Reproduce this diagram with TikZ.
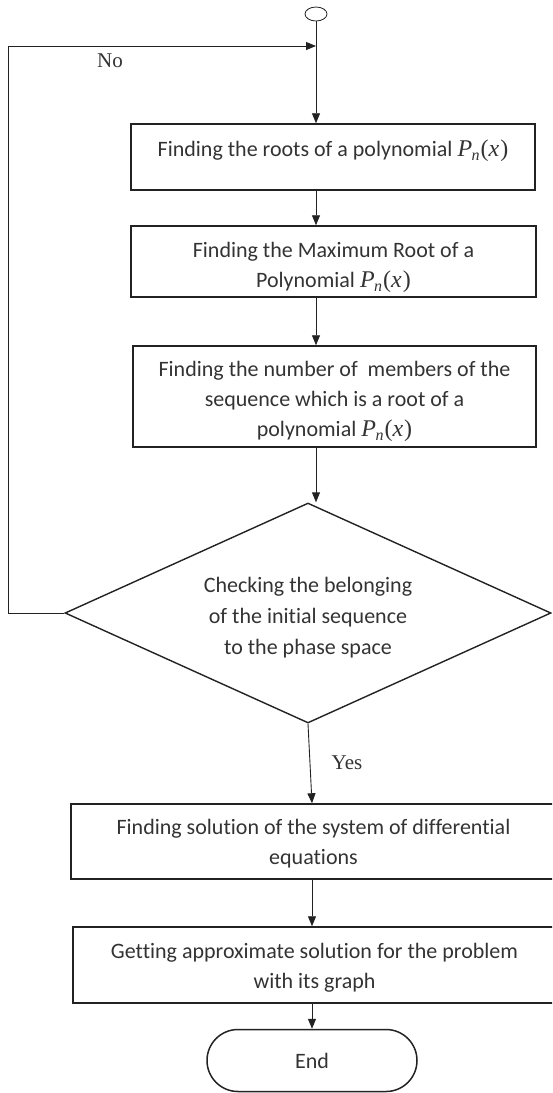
\documentclass[tikz,border=0pt]{standalone}
\usepackage{fontspec}
\setmainfont{Carlito}[Ligatures=NoCommon]
\newfontfamily\timesfont{Liberation Serif}
\usetikzlibrary{shapes.geometric,arrows.meta}
\definecolor{ink}{HTML}{222222}
\definecolor{txt}{HTML}{333333}
\newcommand{\polyP}{{\timesfont\fontsize{24}{30}\selectfont\itshape P\kern-0.5pt\raisebox{-4pt}{\fontsize{16}{16}\selectfont n}\kern1pt\upshape(\itshape x\kern1pt\upshape)}}
\begin{document}
\begin{tikzpicture}[x=1pt,y=-1pt,
  procbox/.style={draw=ink, line width=1.5pt, inner sep=0pt, align=center,
    text=txt, font=\fontsize{22}{30}\selectfont},
  decision/.style={draw=ink, diamond, aspect=2.2, line width=1.4pt, inner sep=0pt,
    align=center, text=txt, font=\fontsize{22}{31}\selectfont},
  arr/.style={draw=ink, line width=0.9pt, -{Triangle[length=10pt,width=8pt]}},
  lbl/.style={font=\timesfont\fontsize{21}{24}\selectfont, text=txt}]
\useasboundingbox (0,0) rectangle (552,1093);
\clip (0,0) rectangle (552,1093);
\node[draw=ink, ellipse, line width=0.8pt, minimum width=22pt, minimum height=14pt, inner sep=0pt] (s) at (316,14) {};
\coordinate (j) at (316,46);
\coordinate (cL) at (8,46);
\node[procbox, minimum width=404pt, minimum height=66pt, text height=16pt, text depth=18pt] (b1) at (333,157)
  {Finding the roots of a polynomial \polyP};
\node[procbox, minimum width=405pt, minimum height=71pt] (b2) at (333.5,261.5)
  {\rule{0pt}{28pt}Finding the Maximum Root of a\\Polynomial \polyP};
\node[procbox, minimum width=403pt, minimum height=101pt] (b3) at (334.5,396.5)
  {\rule{0pt}{26pt}Finding the number of\ \ members of the\\sequence which is a root of a\\polynomial \polyP};
\node[decision, minimum width=486pt, minimum height=220pt] (d) at (308,613)
  {\rule{0pt}{24pt}Checking the belonging\\of the initial sequence\\to the phase space};
\node[procbox, minimum width=485pt, minimum height=75pt] (b4) at (313.5,841.5)
  {\rule{0pt}{20pt}Finding solution of the system of differential\\equations};
\node[procbox, minimum width=483pt, minimum height=76pt] (b5) at (314.5,965)
  {\rule{0pt}{20pt}Getting approximate solution for the problem\\with its graph};
\node[procbox, rounded corners=31pt, minimum width=210pt, minimum height=62pt] (e) at (312,1060.5) {End};
\node[lbl] (no) at (110,61) {No};
\node[lbl] (yes) at (347,763) {Yes};
\draw[arr] (s.south) -- (b1.north -| s.south);
\draw[arr] (b1.south -| s.south) -- (b2.north -| s.south);
\draw[arr] (b2.south -| s.south) -- (b3.north -| s.south);
\draw[arr] (b3.south -| s.south) -- (d.north -| s.south);
\draw[arr] (d.west) -| (cL) -- (j);
\draw[arr] (d.south) -- (b4.north -| e.north);
\draw[arr] (b4.south -| e.north) -- (b5.north -| e.north);
\draw[arr] (b5.south -| e.north) -- (e.north);
\end{tikzpicture}
\end{document}
